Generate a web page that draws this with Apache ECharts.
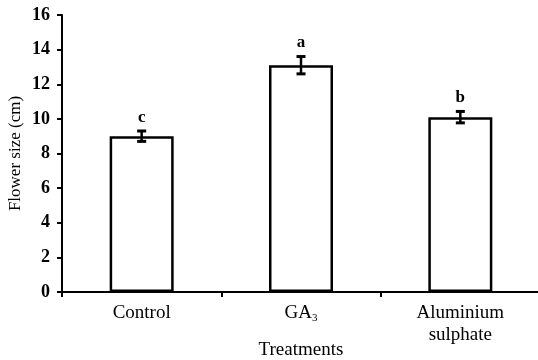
<!DOCTYPE html>
<html><head><meta charset="utf-8">
<script src="https://cdn.jsdelivr.net/npm/echarts@6/dist/echarts.min.js"></script>
<style>
html,body{margin:0;padding:0;background:#fff}#c{width:538px;height:360px}
.pre{position:absolute;left:-9999px;top:0;font-family:'Liberation Serif';}
</style>
</head><body>
<span class="pre" style="font-size:17px">Flower 0123456789</span>
<span class="pre" style="font-size:18px;font-weight:bold">Flower 0123456789</span>
<div id="c"></div>
<script>
var categories = ['Control', 'GA3', 'Aluminium\nsulphate'];
var values = [9.0, 13.1, 10.1];
var errors = [0.3, 0.5, 0.33];
var letters = ['c', 'a', 'b'];
var yTicks = [0, 2, 4, 6, 8, 10, 12, 14, 16];

var serif = 'Liberation Serif';
var chart = null;
function draw() {
  if (chart) chart.dispose();
  chart = echarts.init(document.getElementById('c'));
  chart.setOption({
    animation: false,
    backgroundColor: '#fff',
    grid: { left: 62, right: -2, top: 15, bottom: 68, containLabel: false, outerBoundsMode: 'none' },
    xAxis: {
      type: 'category',
      data: categories,
      name: 'Treatments',
      nameLocation: 'middle',
      nameGap: 49,
      nameMoveOverlap: false,
      nameTextStyle: { fontFamily: serif, fontSize: 19, color: '#000' },
      axisLine: { lineStyle: { color: '#000', width: 2 } },
      axisTick: { show: true, length: 5, lineStyle: { color: '#000', width: 2 } },
      axisLabel: {
        fontFamily: serif, fontSize: 19, color: '#000', margin: 10, lineHeight: 22,
        formatter: function (v) { return v === 'GA3' ? '{n|GA}{s|3}' : '{n|' + v.replace('\n', '}\n{n|') + '}'; },
        rich: {
          n: { fontFamily: serif, fontSize: 19, color: '#000', lineHeight: 22 },
          s: { fontFamily: serif, fontSize: 11, color: '#000', verticalAlign: 'bottom', padding: [9, 0, 0, 0] }
        }
      }
    },
    yAxis: {
      type: 'value',
      min: 0, max: 16, interval: 2,
      name: 'Flower size (cm)',
      nameLocation: 'middle',
      nameGap: 38,
      nameMoveOverlap: false,
      nameTextStyle: { fontFamily: serif, fontSize: 17, color: '#000' },
      axisLine: { show: true, lineStyle: { color: '#000', width: 2 } },
      axisTick: { show: true, length: 5, lineStyle: { color: '#000', width: 2 } },
      splitLine: { show: false },
      axisLabel: {
        fontFamily: serif, fontSize: 18, fontWeight: 'bold', color: '#000', margin: 12,
        formatter: function (v) { return yTicks.indexOf(v) >= 0 ? String(v) : ''; }
      }
    },
    series: [
      {
        type: 'bar',
        data: values,
        barWidth: 64,
        itemStyle: { color: '#fff', borderColor: '#000', borderWidth: 2.5 }
      },
      {
        type: 'custom',
        data: values.map(function (v, i) { return [i, v - errors[i], v + errors[i]]; }),
        encode: { x: 0, y: [1, 2] },
        z: 5,
        renderItem: function (params, api) {
          var i = api.value(0);
          var lo = api.coord([i, api.value(1)]);
          var hi = api.coord([i, api.value(2)]);
          var w = 4.5;
          var st = { stroke: '#000', lineWidth: 2.5 };
          var cap = { stroke: '#000', lineWidth: 3 };
          return {
            type: 'group',
            children: [
              { type: 'line', shape: { x1: lo[0], y1: lo[1], x2: hi[0], y2: hi[1] }, style: st },
              { type: 'line', shape: { x1: lo[0] - w, y1: lo[1], x2: lo[0] + w, y2: lo[1] }, style: cap },
              { type: 'line', shape: { x1: hi[0] - w, y1: hi[1], x2: hi[0] + w, y2: hi[1] }, style: cap },
              { type: 'text', style: { text: letters[i], x: hi[0], y: hi[1] - 5, align: 'center', verticalAlign: 'bottom',
                font: 'bold 17px "Liberation Serif"', fill: '#000' } }
            ]
          };
        }
      }
    ]
  });
}
draw();
if (document.fonts && document.fonts.load) {
  Promise.all([
    document.fonts.load('19px "Liberation Serif"'),
    document.fonts.load('bold 18px "Liberation Serif"')
  ]).then(draw, function () {});
}
</script></body></html>
